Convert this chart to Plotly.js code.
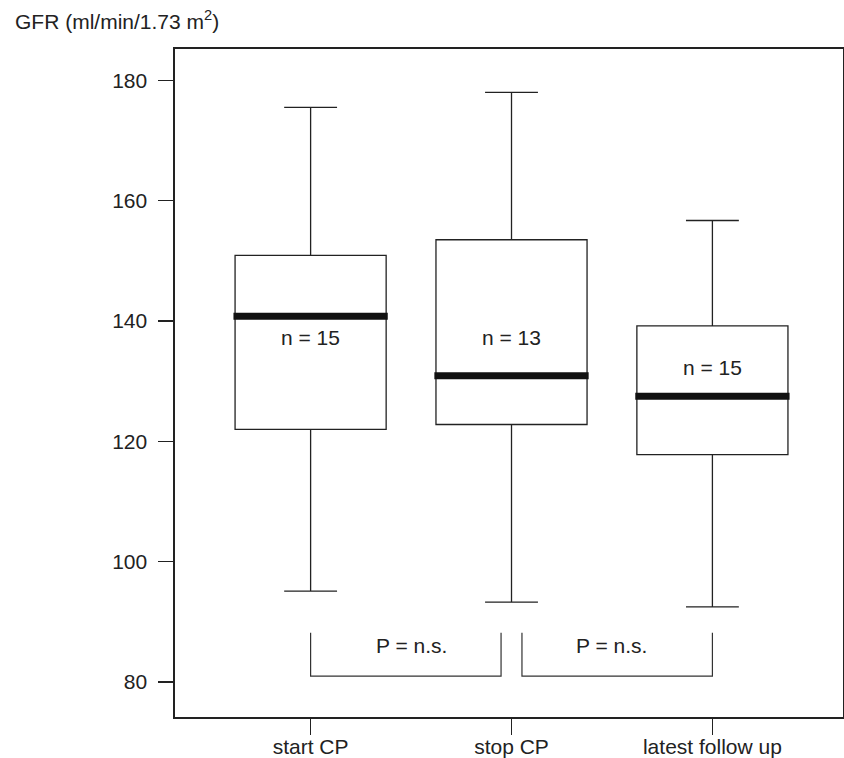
<!DOCTYPE html>
<html><head><meta charset="utf-8">
<script src="https://cdn.plot.ly/plotly-3.0.1.min.js"></script>
<style>html,body{margin:0;padding:0;background:#fff}#chart{width:844px;height:758px}</style>
</head><body><div id="chart"></div>
<script>
// ---- data ----
const categories = ['start CP', 'stop CP', 'latest follow up'];
const lowerWhisker = [95.1, 93.3, 92.5];
const q1 = [122.0, 122.8, 117.8];
const median = [140.8, 130.9, 127.5];
const q3 = [150.9, 153.5, 139.2];
const upperWhisker = [175.5, 178.0, 156.7];
const nCounts = [15, 13, 15];
const comparisons = [[0, 1], [1, 2]];
const comparisonLabels = ['P = n.s.', 'P = n.s.'];
const yTickVals = [80, 100, 120, 140, 160, 180];

// ---- layout / style ----
const FONT = 'Liberation Sans, Arial, Helvetica, sans-serif';
const FS = 21;
const INK = '#222';
const boxWidth = 0.752;
const nLabelY = [137.2, 137.2, 132.2];
const bracketTop = 88.2, bracketBottom = 81.0, bracketTextY = 86.1, bracketGap = 0.052;

const pos = categories.map((_, i) => i);

const boxTrace = {
  type: 'box',
  x: pos,
  q1: q1, median: median, q3: q3,
  lowerfence: lowerWhisker, upperfence: upperWhisker,
  width: boxWidth,
  whiskerwidth: 0.35,
  fillcolor: '#ffffff',
  line: {color: INK, width: 1.3},
  boxpoints: false,
  hoverinfo: 'skip',
  showlegend: false
};

const shapes = [];
// thick median bars
median.forEach((m, i) => {
  shapes.push({type: 'line', xref: 'x', yref: 'y',
    x0: pos[i] - boxWidth / 2 - 0.008, x1: pos[i] + boxWidth / 2 + 0.008, y0: m, y1: m,
    line: {color: '#111', width: 7}});
});
// comparison brackets
const shared = {};
comparisons.forEach(c => c.forEach(k => shared[k] = (shared[k] || 0) + 1));
const annotations = [];
comparisons.forEach((c, j) => {
  const a = c[0], b = c[1];
  const xa = pos[a] + (shared[a] > 1 ? bracketGap : 0);
  const xb = pos[b] - (shared[b] > 1 ? bracketGap : 0);
  shapes.push({type: 'path', xref: 'x', yref: 'y',
    path: `M ${xa},${bracketTop} L ${xa},${bracketBottom} L ${xb},${bracketBottom} L ${xb},${bracketTop}`,
    line: {color: '#333', width: 1.2}});
  annotations.push({xref: 'x', yref: 'y', x: (pos[a] + pos[b]) / 2, y: bracketTextY,
    text: comparisonLabels[j], showarrow: false, font: {family: FONT, size: FS, color: INK}});
});
nCounts.forEach((n, i) => {
  annotations.push({xref: 'x', yref: 'y', x: pos[i], y: nLabelY[i], text: 'n = ' + n,
    showarrow: false, font: {family: FONT, size: FS, color: INK}});
});
annotations.push({xref: 'paper', yref: 'paper', x: (12.7 - 175) / 668, y: 1 + (49 - 20) / 668,
  xanchor: 'left', yanchor: 'middle', text: 'GFR (ml/min/1.73 m<sup>2</sup>)', showarrow: false,
  font: {family: FONT, size: FS, color: INK}});

const layout = {
  width: 844, height: 758,
  margin: {l: 175, r: 1, t: 49, b: 41, pad: 0},
  paper_bgcolor: '#ffffff', plot_bgcolor: '#ffffff',
  font: {family: FONT, size: FS, color: INK},
  showlegend: false,
  xaxis: {
    range: [-0.675, 2.65], tickmode: 'array', tickvals: pos, ticktext: categories,
    ticks: 'outside', ticklen: 16, tickwidth: 1.2, tickcolor: INK,
    showline: true, linecolor: INK, linewidth: 1.6, mirror: true,
    showgrid: false, zeroline: false, ticklabelstandoff: -6,
    tickfont: {family: FONT, size: FS, color: INK}
  },
  yaxis: {
    range: [74.2, 185.2], tickmode: 'array', tickvals: yTickVals,
    ticks: 'outside', ticklen: 15, tickwidth: 1.2, tickcolor: INK,
    showline: true, linecolor: INK, linewidth: 1.6, mirror: true,
    showgrid: false, zeroline: false, ticklabelstandoff: 7,
    tickfont: {family: FONT, size: FS, color: INK}
  },
  shapes: shapes,
  annotations: annotations
};

Plotly.newPlot('chart', [boxTrace], layout, {staticPlot: true, displayModeBar: false});
</script>
</body></html>
